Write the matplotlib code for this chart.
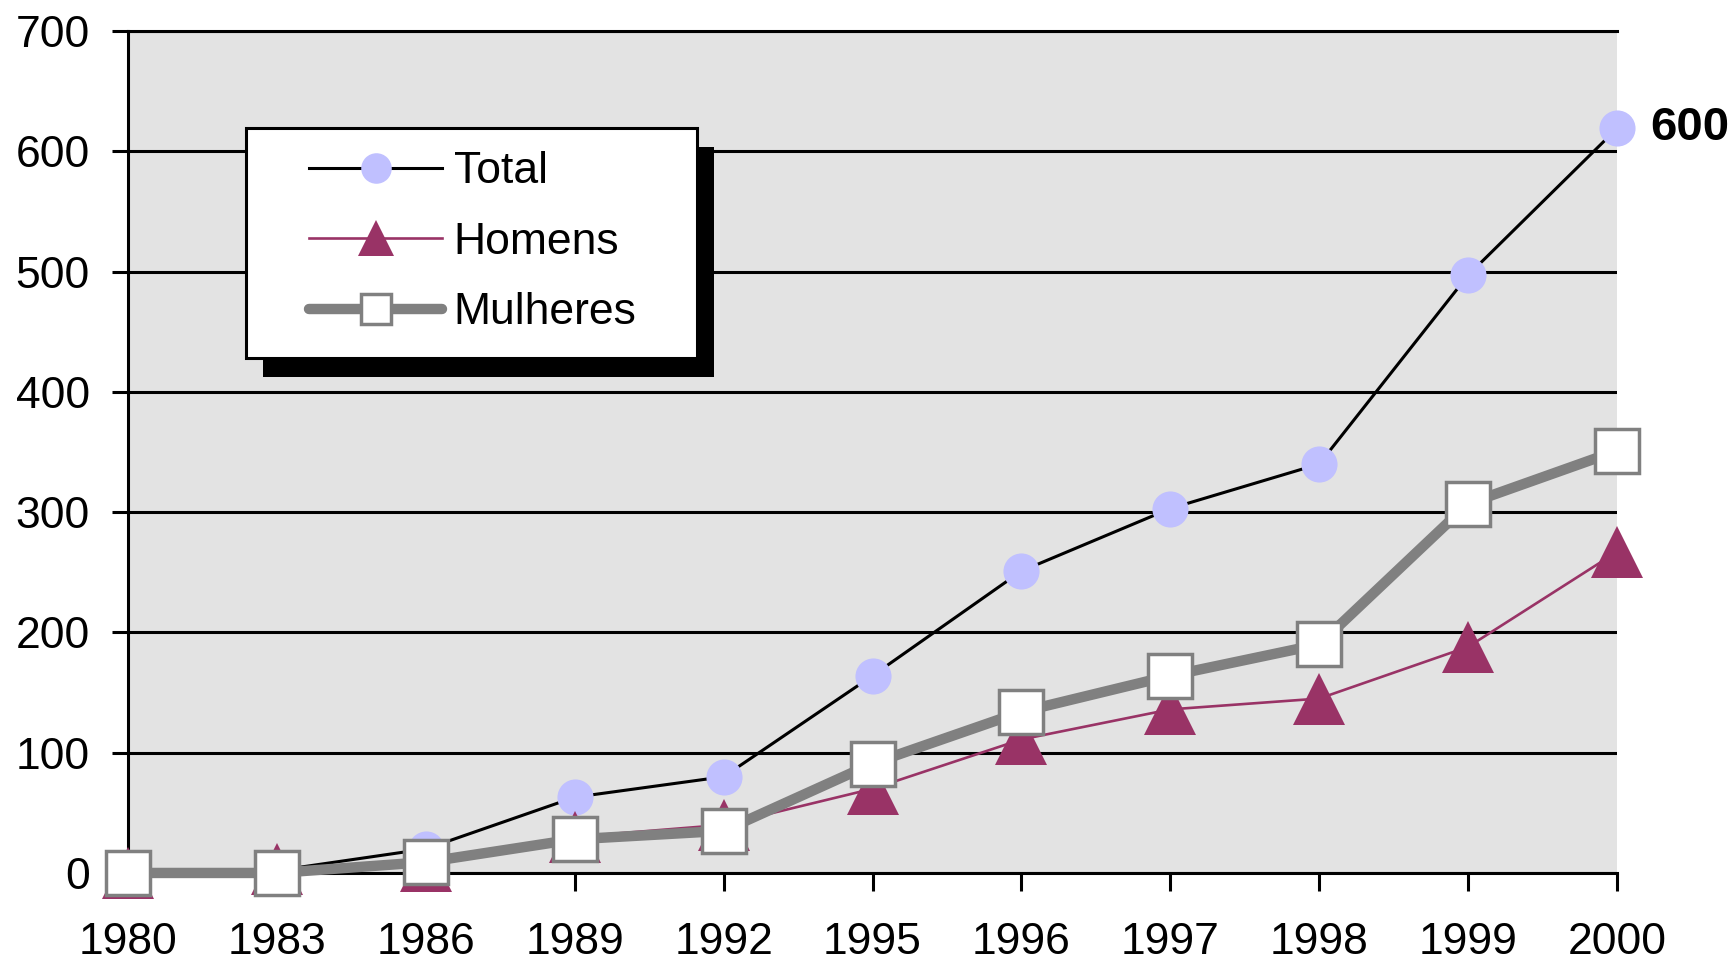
import matplotlib
matplotlib.use("Agg")
import matplotlib.pyplot as plt
from matplotlib.patches import Rectangle

plt.rcParams['font.family'] = ['Liberation Sans', 'DejaVu Sans']

anos = ["1980", "1983", "1986", "1989", "1992", "1995", "1996", "1997", "1998", "1999", "2000"]
total = [0, 2, 20, 63, 80, 164, 251, 303, 340, 497, 619]
homens = [0, 3, 6, 30, 40, 70, 111, 136, 145, 188, 267]
mulheres = [0, 0, 9, 28, 35, 91, 134, 164, 190, 307, 351]
yticks = [0, 100, 200, 300, 400, 500, 600, 700]

fig = plt.figure(figsize=(17.35, 9.63), dpi=100)
ax = fig.add_axes([0.0738, 0.0935, 0.8582, 0.8743])
ax.set_facecolor('#E3E3E3')

x = list(range(len(anos)))

# séries (Mulheres par-dessus, comme dans Excel)
ax.plot(x, total, color='black', lw=2.2, marker='o', ms=26,
        markerfacecolor='#C0C0FF', markeredgecolor='#C0C0FF', markeredgewidth=0,
        label='Total', zorder=3, clip_on=False)
ax.plot(x, homens, color='#993366', lw=1.9, marker='^', ms=37,
        markerfacecolor='#993366', markeredgewidth=0,
        label='Homens', zorder=3.1, clip_on=False)
ax.plot(x, mulheres, color='#808080', lw=7.5, marker='s', ms=31,
        markerfacecolor='white', markeredgecolor='#808080', markeredgewidth=2.5,
        label='Mulheres', zorder=3.2, clip_on=False, solid_capstyle='round')

ax.set_xlim(0, len(anos) - 1)
ax.set_ylim(0, 700)
ax.set_xticks(x)
ax.set_xticklabels(anos)
ax.set_yticks(yticks)
ax.set_yticklabels([str(v) for v in yticks])

ax.yaxis.grid(True, color='black', lw=2.2)
ax.set_axisbelow(True)
for s in ['left', 'bottom', 'top']:
    ax.spines[s].set_color('black')
    ax.spines[s].set_linewidth(2.2)
ax.spines['right'].set_visible(False)
ax.tick_params(axis='x', length=13, width=2.2, pad=22, labelsize=32, colors='black')
ax.tick_params(axis='y', length=11.5, width=2.2, pad=16, labelsize=32, colors='black')

# étiquette de la dernière valeur
ax.annotate("600", xy=(x[-1], total[-1]), xytext=(24, 0), textcoords='offset points',
            ha='left', va='center', fontsize=34, fontweight='bold', annotation_clip=False)

# cadre de la légende avec ombre noire
bx0, by0, bw, bh = 0.0792, 0.6116, 0.3029, 0.2732
ax.add_patch(Rectangle((bx0 + 0.0114, by0 - 0.0226), bw, bh, transform=ax.transAxes,
                       facecolor='black', edgecolor='black', lw=0, zorder=4, clip_on=False))
ax.add_patch(Rectangle((bx0, by0), bw, bh, transform=ax.transAxes,
                       facecolor='white', edgecolor='black', lw=2.2, zorder=4.1, clip_on=False))

leg = ax.legend(loc='upper left', bbox_to_anchor=(0.1216, 0.857), frameon=False,
                fontsize=32, handlelength=3.0, handletextpad=0.25, labelspacing=0.66,
                borderpad=0, borderaxespad=0)
leg.set_zorder(5)
for h, taille in zip(leg.legend_handles, [22, 26, 21]):
    h.set_markersize(taille)

fig.savefig("out.png", dpi=100)
